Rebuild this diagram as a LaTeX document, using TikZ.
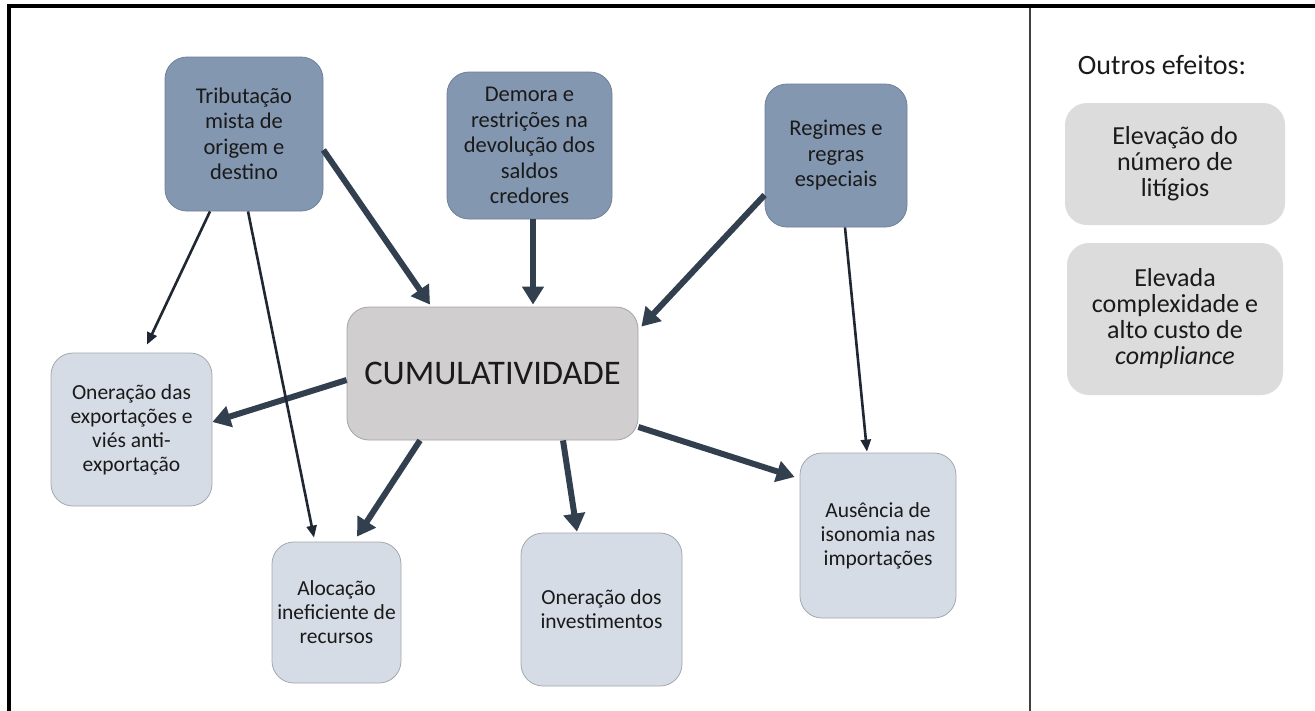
\documentclass[tikz,border=0pt]{standalone}
\usepackage{fontspec}
\setmainfont{Carlito}
\usetikzlibrary{arrows.meta,calc}
\definecolor{causefill}{HTML}{8497B0}
\definecolor{causeedge}{HTML}{6F8099}
\definecolor{centerfill}{HTML}{D0CECE}
\definecolor{centeredge}{HTML}{A5A5A5}
\definecolor{effectfill}{HTML}{D6DCE5}
\definecolor{effectedge}{HTML}{A3A8AF}
\definecolor{otherfill}{HTML}{DCDCDC}
\definecolor{arrowc}{HTML}{323F4F}
\definecolor{thinc}{HTML}{1F2732}
\definecolor{txt}{HTML}{1A1A1A}
\begin{document}
\begin{tikzpicture}[x=1pt,y=-1pt,
  box/.style={rounded corners=22pt, align=center, inner sep=0pt, line width=0.8pt, text=txt},
  causebox/.style={box, fill=causefill, draw=causeedge, font=\fontsize{22.5}{25.5}\selectfont},
  centerbox/.style={box, fill=centerfill, draw=centeredge, font=\fontsize{34.5}{40}\selectfont},
  effectbox/.style={box, fill=effectfill, draw=effectedge, font=\fontsize{21.5}{24}\selectfont},
  otherbox/.style={box, fill=otherfill, draw=none, font=\fontsize{26}{26}\selectfont},
  thickarrow/.style={draw=arrowc, line width=6pt, -{Triangle[length=18pt,width=21pt]}},
  thinarrow/.style={draw=thinc, line width=2.6pt, -{Triangle[length=12pt,width=10pt]}}
]
\useasboundingbox (0,0) rectangle (1315,710);
\fill[white] (0,0) rectangle (1315,710);
\draw[line width=4pt, line cap=rect] (9,712) -- (9,6) -- (1317,6);
\draw[line width=2pt, color=black!75] (1030,8) -- (1030,712);

% causes
\node[causebox, minimum width=158pt, minimum height=154pt] (trib) at (244,134) {Tributação\\mista de\\origem e\\destino};
\node[causebox, minimum width=165pt, minimum height=147pt] (demora) at (529.5,145.5) {Demora e\\restrições na\\devolução dos\\saldos\\credores};
\node[causebox, minimum width=142pt, minimum height=143pt] (regimes) at (836,155.5) {Regimes e\\regras\\especiais};

% center
\node[centerbox, minimum width=291pt, minimum height=133pt] (cumul) at (492.5,373.5) {CUMULATIVIDADE};

% effects
\node[effectbox, minimum width=161pt, minimum height=153pt] (onexp) at (131.5,429.5) {Oneração das\\exportações e\\viés anti-\\exportação};
\node[effectbox, minimum width=129pt, minimum height=141pt] (aloc) at (336.5,612.5) {Alocação\\ineficiente de\\recursos};
\node[effectbox, minimum width=161pt, minimum height=153pt] (oninv) at (601.5,609.5) {Oneração dos\\investimentos};
\node[effectbox, minimum width=156pt, minimum height=165pt] (aus) at (878,535.5) {Ausência de\\isonomia nas\\importações};

% other effects
\node[font=\fontsize{28}{32}\selectfont, text=txt, inner sep=0pt] (outros) at (1162,65) {Outros efeitos:};
\node[otherbox, minimum width=220pt, minimum height=122pt] (elev1) at (1175,164) {Elevação do\\número de\\litígios};
\node[otherbox, minimum width=216pt, minimum height=152pt] (elev2) at (1175,319) {Elevada\\complexidade e\\alto custo de\\\textit{compliance}};

% thick arrows
\draw[thickarrow] ([yshift=-16pt]trib.east) -- ([xshift=-62.5pt,yshift=2pt]cumul.north);
\draw[thickarrow] ([xshift=3.5pt]demora.south) -- ([xshift=40.5pt,yshift=2pt]cumul.north);
\draw[thickarrow] ([yshift=-39.5pt]regimes.west) -- ([xshift=3pt,yshift=-20pt]cumul.north east);
\draw[thickarrow] ([yshift=-6.5pt]cumul.west) -- ([yshift=7.5pt]onexp.east);
\draw[thickarrow] ([xshift=-72.5pt]cumul.south) -- ([xshift=20.5pt,yshift=5pt]aloc.north);
\draw[thickarrow] ([xshift=70.5pt]cumul.south) -- ([xshift=-24.5pt,yshift=1pt]oninv.north);
\draw[thickarrow] ([yshift=-53.5pt]cumul.east) -- ([xshift=-5pt,yshift=58.5pt]aus.west);

% thin arrows
\draw[thinarrow] ([xshift=-34pt]trib.south) -- ([xshift=15.5pt,yshift=8pt]onexp.north);
\draw[thinarrow] ([xshift=4pt]trib.south) -- ([xshift=-22.5pt,yshift=4pt]aloc.north);
\draw[thinarrow] ([xshift=9pt]regimes.south) -- ([xshift=-11pt,yshift=1pt]aus.north);
\end{tikzpicture}
\end{document}
